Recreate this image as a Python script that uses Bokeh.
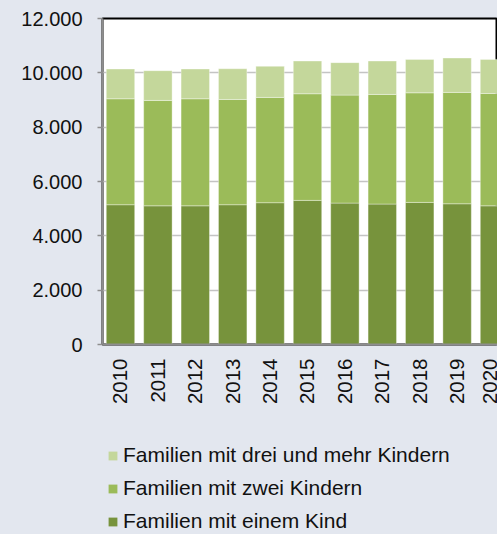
from bokeh.plotting import figure
from bokeh.layouts import column
from bokeh.models import (ColumnDataSource, Legend, LegendItem, FixedTicker,
                          CustomJSTickFormatter, Range1d, GlobalInlineStyleSheet)
from bokeh.embed import file_html
from bokeh.resources import INLINE

years = [2010, 2011, 2012, 2013, 2014, 2015, 2016, 2017, 2018, 2019, 2020]
einem_kind = [5145, 5105, 5105, 5145, 5220, 5305, 5205, 5170, 5230, 5180, 5105]
zwei_kinder = [3900, 3880, 3940, 3875, 3875, 3925, 3975, 4035, 4035, 4100, 4135]
drei_mehr = [1095, 1095, 1095, 1130, 1145, 1205, 1195, 1230, 1230, 1265, 1255]
labels = ["Familien mit einem Kind", "Familien mit zwei Kindern",
          "Familien mit drei und mehr Kindern"]
y_ticks = [0, 2000, 4000, 6000, 8000, 10000, 12000]

colors = ["#77933c", "#9bbb59", "#c4d79b"]
bg = "#e3e7ef"
font = "Liberation Sans"

src = ColumnDataSource(dict(year=years, one=einem_kind, two=zwei_kinder, three=drei_mehr))

p = figure(frame_width=395, frame_height=326, output_backend="svg", toolbar_location=None,
           x_range=Range1d(2009.519, 2020.08), y_range=Range1d(0, 12000),
           min_border_left=102, min_border_right=0, min_border_top=18,
           min_border_bottom=76,
           background_fill_color="white", border_fill_color=bg,
           stylesheets=[GlobalInlineStyleSheet(css=f"body {{ background: {bg}; }}")])

p.vbar_stack(["one", "two", "three"], x="year", width=0.76, source=src,
             fill_color=colors, line_color="white", line_alpha=0.35, line_width=1)

p.outline_line_color = "black"
p.outline_line_width = 2

p.xgrid.grid_line_color = None
p.ygrid.grid_line_color = "#c4c4c4"
p.ygrid.grid_line_width = 1.5

ya = p.yaxis[0]
ya.ticker = FixedTicker(ticks=y_ticks)
ya.formatter = CustomJSTickFormatter(code="""
  return Math.round(tick).toString().replace(/\\B(?=(\\d{3})+(?!\\d))/g, '.');
""")
ya.axis_line_color = "#8e8e8e"
ya.axis_line_width = 2
ya.major_tick_line_color = "#8e8e8e"
ya.major_tick_line_width = 1.5
ya.major_tick_out = 5
ya.major_tick_in = 0
ya.minor_tick_line_color = None
ya.major_label_standoff = 15
ya.major_label_text_font = font
ya.major_label_text_font_size = "20px"
ya.major_label_text_color = "#111111"

xa = p.xaxis[0]
xa.ticker = FixedTicker(ticks=years)
xa.formatter = CustomJSTickFormatter(code="return tick.toFixed(0);")
xa.major_label_orientation = 1.5707963
xa.axis_line_color = "#8e8e8e"
xa.axis_line_width = 2
xa.major_tick_line_color = None
xa.minor_tick_line_color = None
xa.major_tick_out = 0
xa.major_tick_in = 0
xa.major_label_standoff = 14
xa.major_label_text_font = font
xa.major_label_text_font_size = "20.5px"
xa.major_label_text_color = "#111111"

# Legend panel below the chart (its frame is aligned with the chart's frame)
lp = figure(width=497, height=114, output_backend="svg", toolbar_location=None,
            x_range=Range1d(0, 1), y_range=Range1d(0, 1),
            x_axis_type=None, y_axis_type=None,
            min_border_left=0, min_border_right=0, min_border_top=0, min_border_bottom=0,
            background_fill_color=bg, border_fill_color=bg, outline_line_color=None)
lp.xgrid.grid_line_color = None
lp.ygrid.grid_line_color = None

# same data, outside this panel's visible range: only their legend swatches show
legend_renderers = lp.vbar_stack(["one", "two", "three"], x="year", width=0.76,
                                 source=src, fill_color=colors, line_color=None)

items = [LegendItem(label=labels[i], renderers=[legend_renderers[i]]) for i in (2, 1, 0)]
legend = Legend(items=items, location=(5, 1), orientation="vertical",
                background_fill_alpha=0, border_line_color=None,
                padding=0, margin=0, spacing=9,
                glyph_width=11, glyph_height=11, label_height=24,
                label_standoff=5,
                label_text_font=font, label_text_font_size="21px",
                label_text_color="#111111")
lp.add_layout(legend, "center")

layout = column(p, lp, spacing=0)
open("out.html", "w").write(file_html(layout, INLINE))
